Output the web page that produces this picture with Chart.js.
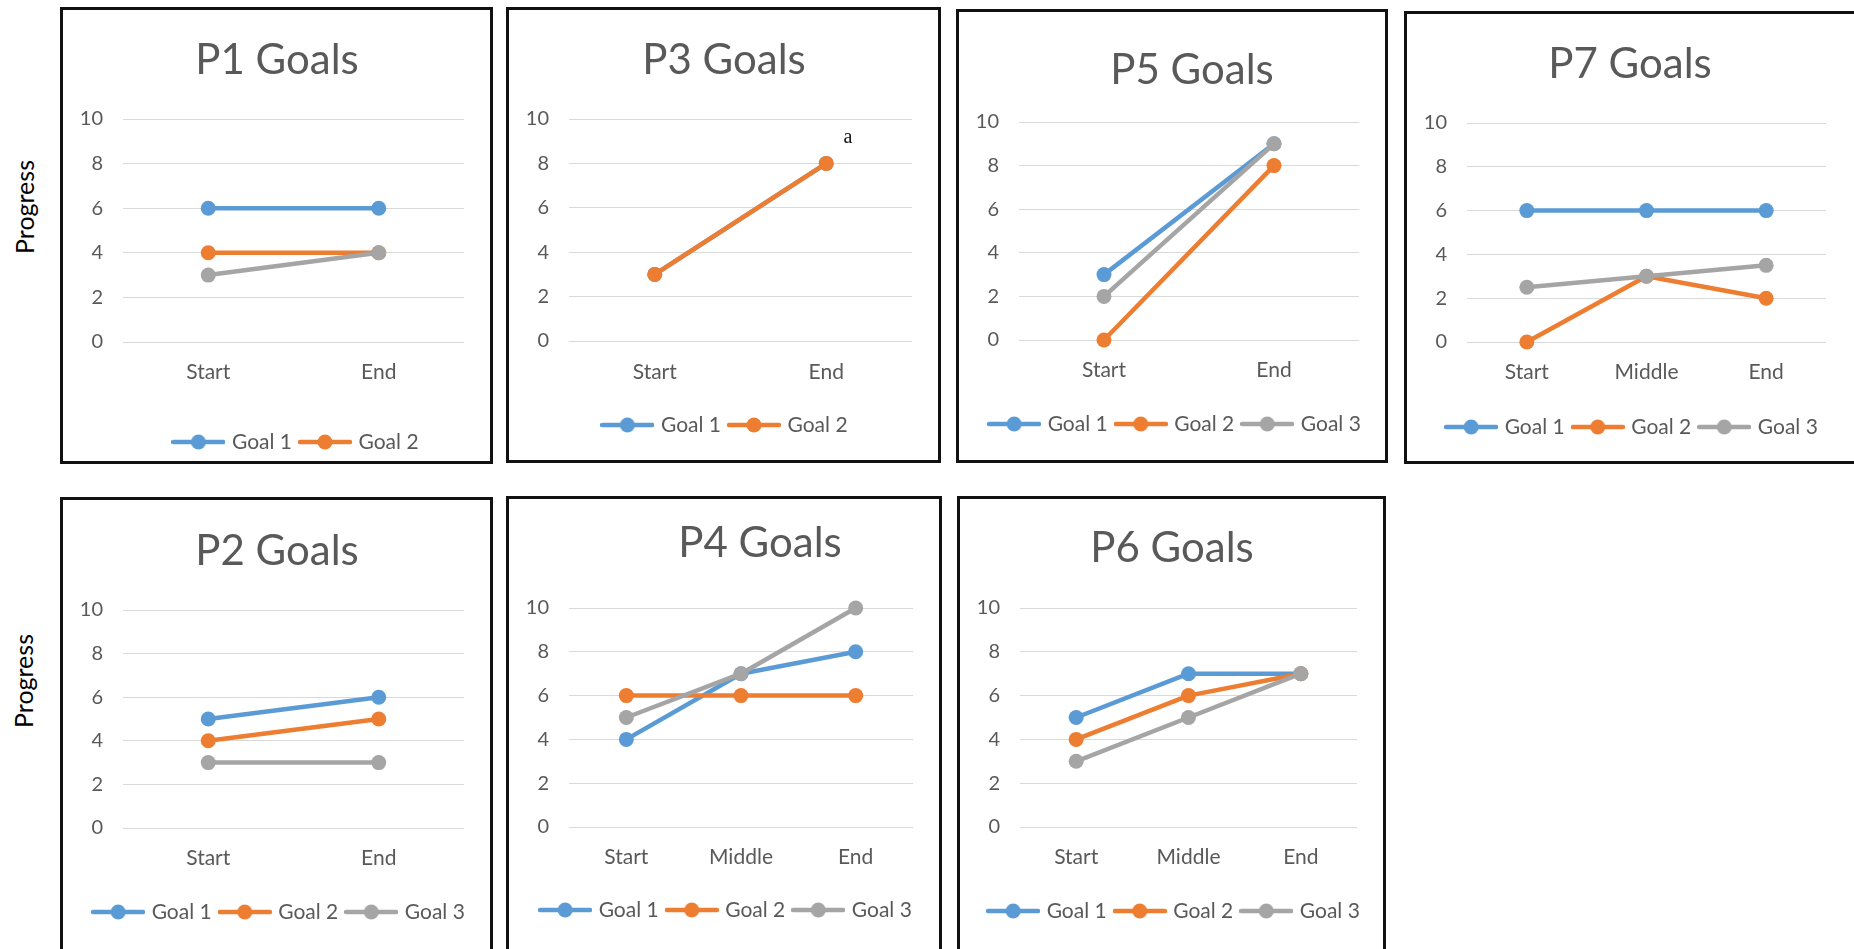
<!DOCTYPE html>
<html>
<head>
<meta charset="utf-8">
<title>Goals progress</title>
<script src="https://cdn.jsdelivr.net/npm/chart.js@4.4.1/dist/chart.umd.min.js"></script>
<style>
html, body { margin: 0; padding: 0; background: #fff; }
body { width: 1854px; height: 949px; overflow: hidden; position: relative; font-family: Lato, "Open Sans", sans-serif; }
.box { position: absolute; border: 3px solid #111; box-sizing: border-box; background: #fff; }
.box canvas { position: absolute; left: 0; top: 0; }
.ttl { position: absolute; font-size: 42px; color: #595959; line-height: 1; white-space: nowrap; transform: translate(-50%, -50%); }
.ylab { position: absolute; font-size: 25px; color: #000; line-height: 1; white-space: nowrap; transform: translate(-50%, -50%) rotate(-90deg); }
.note { position: absolute; font-family: "Liberation Serif", serif; font-size: 20px; color: #111; line-height: 1; transform: translate(-50%, -50%); }
</style>
</head>
<body>
<script>
// categories
var twoCats = ['Start', 'End'];
var threeCats = ['Start', 'Middle', 'End'];
var goalNames = ['Goal 1', 'Goal 2', 'Goal 3'];
var yTicks = [0, 2, 4, 6, 8, 10];

// values
var p1Goal1 = [6, 6];
var p1Goal2 = [4, 4];
var p1Goal3 = [3, 4];

var p3Goal1 = [3, 8];
var p3Goal2 = [3, 8];

var p5Goal1 = [3, 9];
var p5Goal2 = [0, 8];
var p5Goal3 = [2, 9];

var p7Goal1 = [6, 6, 6];
var p7Goal2 = [0, 3, 2];
var p7Goal3 = [2.5, 3, 3.5];

var p2Goal1 = [5, 6];
var p2Goal2 = [4, 5];
var p2Goal3 = [3, 3];

var p4Goal1 = [4, 7, 8];
var p4Goal2 = [6, 6, 6];
var p4Goal3 = [5, 7, 10];

var p6Goal1 = [5, 7, 7];
var p6Goal2 = [4, 6, 7];
var p6Goal3 = [3, 5, 7];

var goalColors = ['#5b9bd5', '#ed7d31', '#a5a5a5'];
var textColor = '#595959';

// box / plot placement on the page
var panels = [
    {name: 'P1 Goals', cats: twoCats, series: [p1Goal1, p1Goal2, p1Goal3], shown: 2,
     box: [60, 7, 433, 457], plot: [123, 119, 464, 342], xLab: 372, leg: [297, 442], title: [277, 58]},
    {name: 'P3 Goals', cats: twoCats, series: [p3Goal1, p3Goal2], shown: 2,
     box: [506, 7, 435, 456], plot: [569, 119, 912, 341], xLab: 372, leg: [726, 425], title: [724, 58]},
    {name: 'P5 Goals', cats: twoCats, series: [p5Goal1, p5Goal2, p5Goal3], shown: 3,
     box: [956, 9, 432, 454], plot: [1019, 122, 1359, 340], xLab: 370, leg: [1176, 424], title: [1192, 68]},
    {name: 'P7 Goals', cats: threeCats, series: [p7Goal1, p7Goal2, p7Goal3], shown: 3,
     box: [1404, 11, 460, 453], plot: [1467, 123, 1826, 342], xLab: 372, leg: [1633, 427], title: [1630, 62]},
    {name: 'P2 Goals', cats: twoCats, series: [p2Goal1, p2Goal2, p2Goal3], shown: 3,
     box: [60, 497, 433, 470], plot: [123, 610, 464, 828], xLab: 858, leg: [280, 912], title: [277, 549]},
    {name: 'P4 Goals', cats: threeCats, series: [p4Goal1, p4Goal2, p4Goal3], shown: 3,
     box: [506, 496, 436, 470], plot: [569, 608, 913, 827], xLab: 857, leg: [727, 910], title: [760, 541]},
    {name: 'P6 Goals', cats: threeCats, series: [p6Goal1, p6Goal2, p6Goal3], shown: 3,
     box: [957, 496, 429, 470], plot: [1020, 608, 1357, 827], xLab: 857, leg: [1175, 911], title: [1172, 546]}
];

var legFont = 21, legPad = 10;

// little line + dot icons for the legend
function makeIcon(color) {
    var c = document.createElement('canvas');
    c.width = 54; c.height = 16;
    var g = c.getContext('2d');
    g.strokeStyle = color; g.lineWidth = 4.5; g.lineCap = 'round';
    g.beginPath(); g.moveTo(2, 8); g.lineTo(52, 8); g.stroke();
    g.fillStyle = color;
    g.beginPath(); g.arc(27, 8, 7.5, 0, Math.PI * 2); g.fill();
    return c;
}
var legendIcons = goalColors.map(makeIcon);

// put the legend where the picture has it
var legendPlace = {
    id: 'legendPlace',
    afterLayout: function(chart, args, opts) {
        var lg = chart.legend;
        if (!lg) return;
        lg.left = opts.cx - 300;
        lg.right = opts.cx + 300;
        lg.width = 600;
        lg.top = opts.cy - legPad - legFont / 2;
        lg.bottom = lg.top + lg.height;
    }
};

function addText(cls, txt, x, y) {
    var d = document.createElement('div');
    d.className = cls;
    d.textContent = txt;
    d.style.left = x + 'px';
    d.style.top = y + 'px';
    document.body.appendChild(d);
}

function makeChart(p) {
    var box = document.createElement('div');
    box.className = 'box';
    box.style.left = p.box[0] + 'px';
    box.style.top = p.box[1] + 'px';
    box.style.width = p.box[2] + 'px';
    box.style.height = p.box[3] + 'px';
    document.body.appendChild(box);

    var ox = p.box[0] + 3, oy = p.box[1] + 3;
    var cw = p.box[2] - 6, ch = p.box[3] - 6;
    var cv = document.createElement('canvas');
    cv.width = cw; cv.height = ch;
    cv.style.width = cw + 'px'; cv.style.height = ch + 'px';
    box.appendChild(cv);

    var legH = legFont + legPad + 10;
    var yW = p.plot[0] - ox;
    var xH = ch - legH - (p.plot[3] - oy);

    var datasets = p.series.map(function(vals, i) {
        return {
            label: goalNames[i],
            data: vals,
            borderColor: goalColors[i],
            backgroundColor: goalColors[i],
            borderWidth: 4.5,
            borderCapStyle: 'round',
            borderJoinStyle: 'round',
            pointRadius: 7.5,
            pointHoverRadius: 7.5,
            pointBorderWidth: 0,
            order: 3 - i,
            clip: false,
            tension: 0
        };
    });

    new Chart(cv, {
        type: 'line',
        data: {labels: p.cats, datasets: datasets},
        options: {
            responsive: false,
            animation: false,
            events: [],
            layout: {padding: {top: p.plot[1] - oy, right: ox + cw - p.plot[2], left: 0, bottom: 0}},
            plugins: {
                title: {display: false},
                tooltip: {enabled: false},
                legend: {
                    position: 'bottom',
                    labels: {
                        usePointStyle: true,
                        pointStyleWidth: 46,
                        padding: legPad,
                        color: textColor,
                        font: {family: 'Lato', size: legFont},
                        generateLabels: function(chart) {
                            return Chart.defaults.plugins.legend.labels.generateLabels(chart).map(function(it) {
                                it.pointStyle = legendIcons[it.datasetIndex];
                                return it;
                            });
                        },
                        filter: function(it) { return it.datasetIndex < p.shown; },
                        sort: function(a, b) { return a.datasetIndex - b.datasetIndex; }
                    }
                },
                legendPlace: {cx: p.leg[0] - ox, cy: p.leg[1] - oy}
            },
            scales: {
                x: {
                    offset: true,
                    grid: {display: false, drawTicks: false},
                    border: {display: false},
                    ticks: {padding: p.xLab - p.plot[3] - 12.6, color: textColor, font: {family: 'Lato', size: 21}},
                    afterFit: function(s) { s.height = xH; }
                },
                y: {
                    min: 0,
                    max: 10,
                    grid: {color: '#d9d9d9', lineWidth: 1, drawTicks: false},
                    border: {display: false},
                    ticks: {padding: 20, color: textColor, font: {family: 'Lato', size: 20}},
                    afterBuildTicks: function(s) { s.ticks = yTicks.map(function(v) { return {value: v}; }); },
                    afterFit: function(s) { s.width = yW; }
                }
            }
        },
        plugins: [legendPlace]
    });

    addText('ttl', p.name, p.title[0], p.title[1]);
}

panels.forEach(makeChart);

addText('ylab', 'Progress', 24, 207);
addText('ylab', 'Progress', 23, 681);
addText('note', 'a', 848, 136);
</script>
</body>
</html>
